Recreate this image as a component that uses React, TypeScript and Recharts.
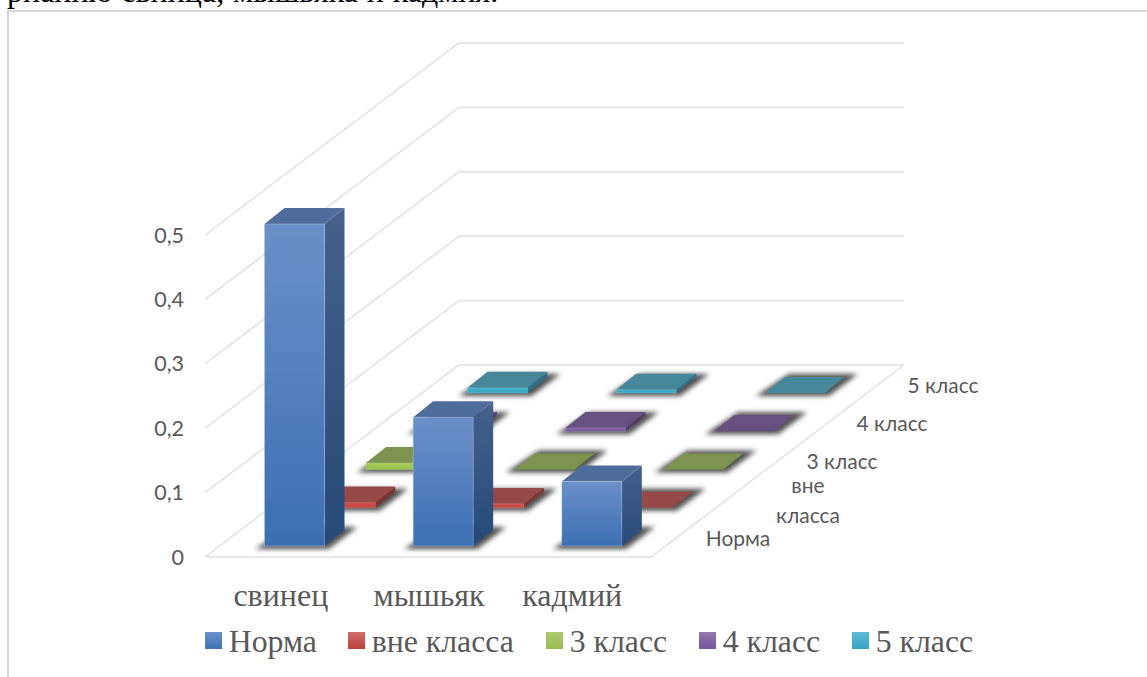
import { BarChart, Bar, XAxis, YAxis, CartesianGrid, Legend } from 'recharts'

const categories = ['свинец', 'мышьяк', 'кадмий']
const seriesNames = ['Норма', 'вне класса', '3 класс', '4 класс', '5 класс']
const norma = [0.5, 0.2, 0.1]
const vneKlassa = [0.008, 0.006, 0]
const klass3 = [0.01, 0, 0]
const klass4 = [0.005, 0.005, 0]
const klass5 = [0.008, 0.005, 0]
const yTicks = [0, 0.1, 0.2, 0.3, 0.4, 0.5]
const depthLabels = [
  { text: 'Норма', x: 738, y: 537 },
  { text: 'вне', x: 808, y: 484 },
  { text: 'класса', x: 808, y: 514 },
  { text: '3 класс', x: 842, y: 460 },
  { text: '4 класс', x: 892, y: 422 },
  { text: '5 класс', x: 943, y: 384 },
]

const seriesValues = [norma, vneKlassa, klass3, klass4, klass5]
const chartData = categories.map((name, i) => {
  const row: Record<string, string | number> = { name }
  seriesValues.forEach((vals, s) => { row['s' + s] = vals[i] })
  return row
})

const faces = [
  { front: ['#6b90c8', '#3b6fb4'], top: '#4f6d9b', side: ['#45618c', '#264a78'], edge: '#b9cbe4' },
  { front: ['#d0504c', '#c8423e'], top: '#964a47', side: ['#7c3432', '#7c3432'], edge: '#d98683' },
  { front: ['#a5cc58', '#98c04c'], top: '#7c9450', side: ['#63793a', '#63793a'], edge: '#c3d992' },
  { front: ['#80619f', '#7a5a9c'], top: '#675180', side: ['#4f3b68', '#4f3b68'], edge: '#a690bf' },
  { front: ['#40aecb', '#38a6c4'], top: '#47879b', side: ['#2f6f85', '#2f6f85'], edge: '#8accdd' },
]

// depth step between the series rows, the chart is a flat projection of the 3D one
const stepX = 50.75
const stepY = -38.25
const baseX = 15.5
const baseY = -11
const boxX = 20
const boxY = 16

function makeBox(s: number) {
  const dx = baseX + s * stepX
  const dy = baseY + s * stepY
  const c = faces[s]
  return function Box(props: any) {
    const { width: w, height: h } = props
    const x = props.x + dx
    const y = props.y + dy
    const b = y + h
    return (
      <g>
        <polygon
          points={`${x - 9},${b + 3} ${x + w + 4},${b + 3} ${x + w + boxX + 13},${b - boxY - 3} ${x + boxX + 4},${b - boxY - 3}`}
          fill="#333"
          opacity={0.85}
          filter="url(#floorShadow)"
        />
        <polygon
          points={`${x + w},${y} ${x + w + boxX},${y - boxY} ${x + w + boxX},${b - boxY} ${x + w},${b}`}
          fill={`url(#side${s})`}
        />
        <polygon
          points={`${x},${y} ${x + boxX},${y - boxY} ${x + w + boxX},${y - boxY} ${x + w},${y}`}
          fill={c.top}
        />
        {h > 0 && <rect x={x} y={y} width={w} height={h} fill={`url(#front${s})`} stroke={c.edge} strokeOpacity={0.5} strokeWidth={0.8} />}
      </g>
    )
  }
}

function wallLine(props: any) {
  const { x1, x2, y1, key } = props
  const bx = x1 + 254
  const by = y1 - 192
  const isFloor = y1 > 556
  return (
    <g key={key}>
      <polyline points={`${x1},${y1} ${bx},${by} ${bx + 445},${by}`} fill="none" stroke="#e1e1e1" strokeWidth={1.4} />
      {isFloor && <polyline points={`${x1},${y1} ${x2},${y1} ${bx + 445},${by}`} fill="none" stroke="#e1e1e1" strokeWidth={1.4} />}
    </g>
  )
}

// the labels in the original are not quite centred on their bands
const tickNudge = [1.5, 1, -4.5]

function CategoryTick(props: any) {
  const { x, y, index, payload } = props
  return (
    <text x={x + tickNudge[index]} y={y} dy="0.71em" textAnchor="middle" fontFamily={'"Liberation Serif", serif'} fontSize={32} fill="#595959">
      {payload.value}
    </text>
  )
}

const swatches = ['#3d74b6', '#bb3f3b', '#98bd50', '#75549c', '#33a5c4']
const swatchTops = ['#6a92c9', '#cf6e6b', '#aec970', '#9079ae', '#62b9d2']
const legendWidths = [143, 198, 153, 153, 130]

function LegendRow() {
  return (
    <div style={{ display: 'flex', alignItems: 'center', height: 36, fontFamily: '"Liberation Serif", serif', fontSize: 31.8, color: '#595959', whiteSpace: 'nowrap' }}>
      {seriesNames.map((n, i) => (
        <div key={n} style={{ display: 'flex', alignItems: 'center', width: legendWidths[i] }}>
          <span style={{ display: 'inline-block', width: 17, height: 17, marginRight: 6.7, background: `linear-gradient(${swatchTops[i]}, ${swatches[i]})` }} />
          <span style={{ position: 'relative', top: 1.5 }}>{n}</span>
        </div>
      ))}
    </div>
  )
}

export default function App() {
  return (
    <div style={{ position: 'absolute', left: 0, top: 0, width: 1147, height: 677, overflow: 'hidden', background: '#fff' }}>
      <div style={{ position: 'absolute', left: 7, top: -27, fontFamily: '"Liberation Serif", serif', fontSize: 32, color: '#000', whiteSpace: 'nowrap', wordSpacing: 0.8 }}>
        рианию свинца, мышьяка и кадмия.
      </div>
      <div style={{ position: 'absolute', left: 7, top: 10, width: 1140, height: 667, borderTop: '2px solid #d6d6d6', borderLeft: '2px solid #d6d6d6', boxSizing: 'border-box' }} />
      <div style={{ position: 'absolute', left: 0, top: 0 }}>
        <BarChart
          width={1147}
          height={677}
          data={chartData}
          barSize={60}
          margin={{ top: 235, right: 496, bottom: 60, left: 130 }}
        >
          <defs>
            <filter id="floorShadow" x="-30%" y="-60%" width="160%" height="220%">
              <feGaussianBlur stdDeviation="2.4" />
            </filter>
            {faces.map((c, s) => (
              <linearGradient key={'f' + s} id={'front' + s} x1="0" y1="0" x2="0" y2="1">
                <stop offset="0%" stopColor={c.front[0]} />
                <stop offset="100%" stopColor={c.front[1]} />
              </linearGradient>
            ))}
            {faces.map((c, s) => (
              <linearGradient key={'g' + s} id={'side' + s} x1="0" y1="0" x2="0" y2="1">
                <stop offset="0%" stopColor={c.side[0]} />
                <stop offset="100%" stopColor={c.side[1]} />
              </linearGradient>
            ))}
          </defs>
          <CartesianGrid horizontal={wallLine} vertical={false} xAxisId={0} />
          <XAxis
            xAxisId={0}
            dataKey="name"
            height={60}
            axisLine={false}
            tickLine={false}
            tickMargin={20}
            interval={0}
            tick={CategoryTick}
          />
          {[1, 2, 3, 4].map((id) => (
            <XAxis key={id} xAxisId={id} dataKey="name" hide />
          ))}
          <YAxis
            width={75}
            domain={[0, 0.5]}
            ticks={yTicks}
            axisLine={false}
            tickLine={false}
            tickMargin={15}
            tickFormatter={(v: number) => String(v).replace('.', ',')}
            tick={{ fontFamily: 'Lato, sans-serif', fontSize: 21.5, fill: '#595959' }}
          />
          {[4, 3, 2, 1, 0].map((s) => (
            <Bar
              key={s}
              xAxisId={s}
              dataKey={'s' + s}
              name={seriesNames[s]}
              fill={swatches[s]}
              shape={makeBox(s)}
              isAnimationActive={false}
            />
          ))}
          <g>
            {depthLabels.map((d) => (
              <text key={d.text} x={d.x} y={d.y} textAnchor="middle" dominantBaseline="central" fontFamily="Lato, sans-serif" fontSize={21} fill="#595959">
                {d.text}
              </text>
            ))}
          </g>
          <Legend
            layout="horizontal"
            verticalAlign="middle"
            content={LegendRow}
            wrapperStyle={{ position: 'absolute', left: 205, top: 622.5, width: 800, height: 36 }}
          />
        </BarChart>
      </div>
    </div>
  )
}
